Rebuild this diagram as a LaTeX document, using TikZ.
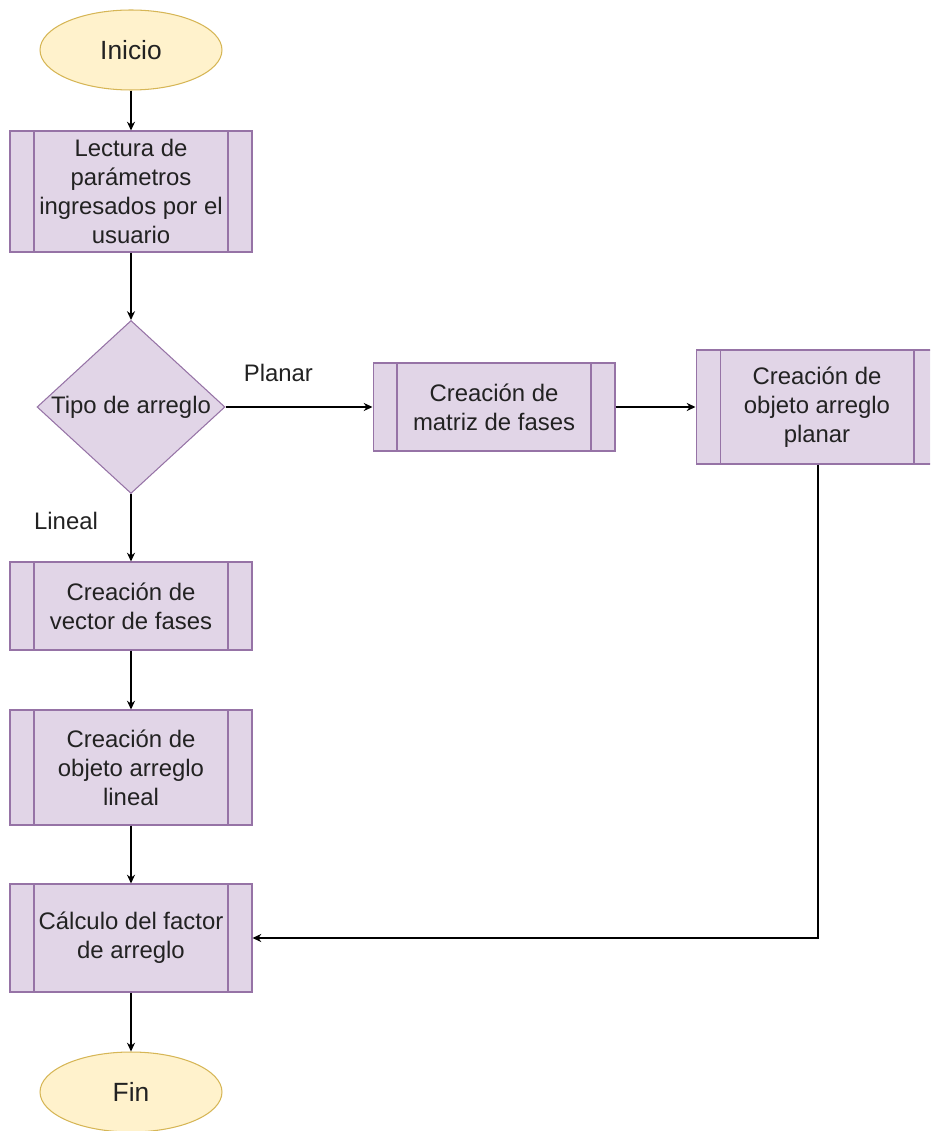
\documentclass[tikz,border=0pt]{standalone}
\usepackage{fontspec}
\setmainfont{Liberation Sans}
\usepackage{xcolor}
\usepackage{tikz}
\usetikzlibrary{arrows.meta,shapes.geometric,calc}
\definecolor{procfill}{HTML}{E1D5E7}
\definecolor{procline}{HTML}{9673A6}
\definecolor{termfill}{HTML}{FFF2CC}
\definecolor{termline}{HTML}{D6B656}
\definecolor{ink}{HTML}{222222}
\tikzset{
  term/.style={ellipse, draw=termline, fill=termfill, line width=0.6pt, inner sep=0pt,
    minimum width=3.64cm, minimum height=1.6cm, text=ink, font=\fontsize{15}{18}\selectfont},
  proc/.style={rectangle, draw=procline, fill=procfill, line width=0.6pt, inner sep=0pt,
    minimum width=4.84cm, align=center, text=ink, font=\fontsize{13.6}{16.4}\selectfont,
    path picture={
      \draw[procline, line width=0.6pt]
        ([xshift=0.48cm]path picture bounding box.north west) -- ([xshift=0.48cm]path picture bounding box.south west)
        ([xshift=-0.48cm]path picture bounding box.north east) -- ([xshift=-0.48cm]path picture bounding box.south east);
    }},
  decision/.style={diamond, draw=procline, fill=procfill, line width=0.6pt, inner sep=0pt,
    minimum width=3.76cm, minimum height=3.46cm, text=ink, font=\fontsize{13.6}{16.4}\selectfont},
  flow/.style={draw=black, line width=0.75pt, -{Stealth[length=5pt,width=4.6pt]}},
  lbl/.style={text=ink, font=\fontsize{13.6}{16}\selectfont, inner sep=0pt},
}
\begin{document}
\begin{tikzpicture}[x=0.02cm, y=-0.02cm]
  \useasboundingbox (0,0) rectangle (930,1131);
  \clip (0,0) rectangle (930,1131);

  \node[term] (inicio) at (131,50) {Inicio};
  \node[proc, minimum height=2.42cm] (lectura) at (131,191.5) {Lectura de\\par\'ametros\\ingresados por el\\usuario};
  \node[decision] (tipo) at (131,407) {\makebox[0pt]{Tipo de arreglo}};
  \node[proc, minimum height=1.76cm] (matriz) at (494,407) {Creaci\'on de\\matriz de fases};
  \node[proc, minimum height=2.28cm] (planar) at (817,407) {Creaci\'on de\\objeto arreglo\\planar};
  \node[proc, minimum height=1.76cm] (vector) at (131,606) {Creaci\'on de\\vector de fases};
  \node[proc, minimum height=2.3cm] (lineal) at (131,767.5) {Creaci\'on de\\objeto arreglo\\lineal};
  \node[proc, minimum height=2.16cm] (calculo) at (131,938) {C\'alculo del factor\\de arreglo};
  \node[term] (fin) at (131,1092) {Fin};

  \draw[flow] (inicio) -- (lectura);
  \draw[flow] (lectura) -- (tipo);
  \draw[flow] (tipo.east) -- node[lbl, pos=0.36, yshift=0.68cm] (planarlbl) {Planar} (matriz.west);
  \draw[flow] (matriz) -- (planar);
  \draw[flow] (tipo.south) -- node[lbl, pos=0.4, xshift=-1.3cm] (linealbl) {Lineal} (vector.north);
  \draw[flow] (vector) -- (lineal);
  \draw[flow] (lineal) -- (calculo);
  \draw[flow] (calculo) -- (fin);
  \draw[flow] ([xshift=0.02cm]planar.south) |- (calculo.east);
\end{tikzpicture}
\end{document}
